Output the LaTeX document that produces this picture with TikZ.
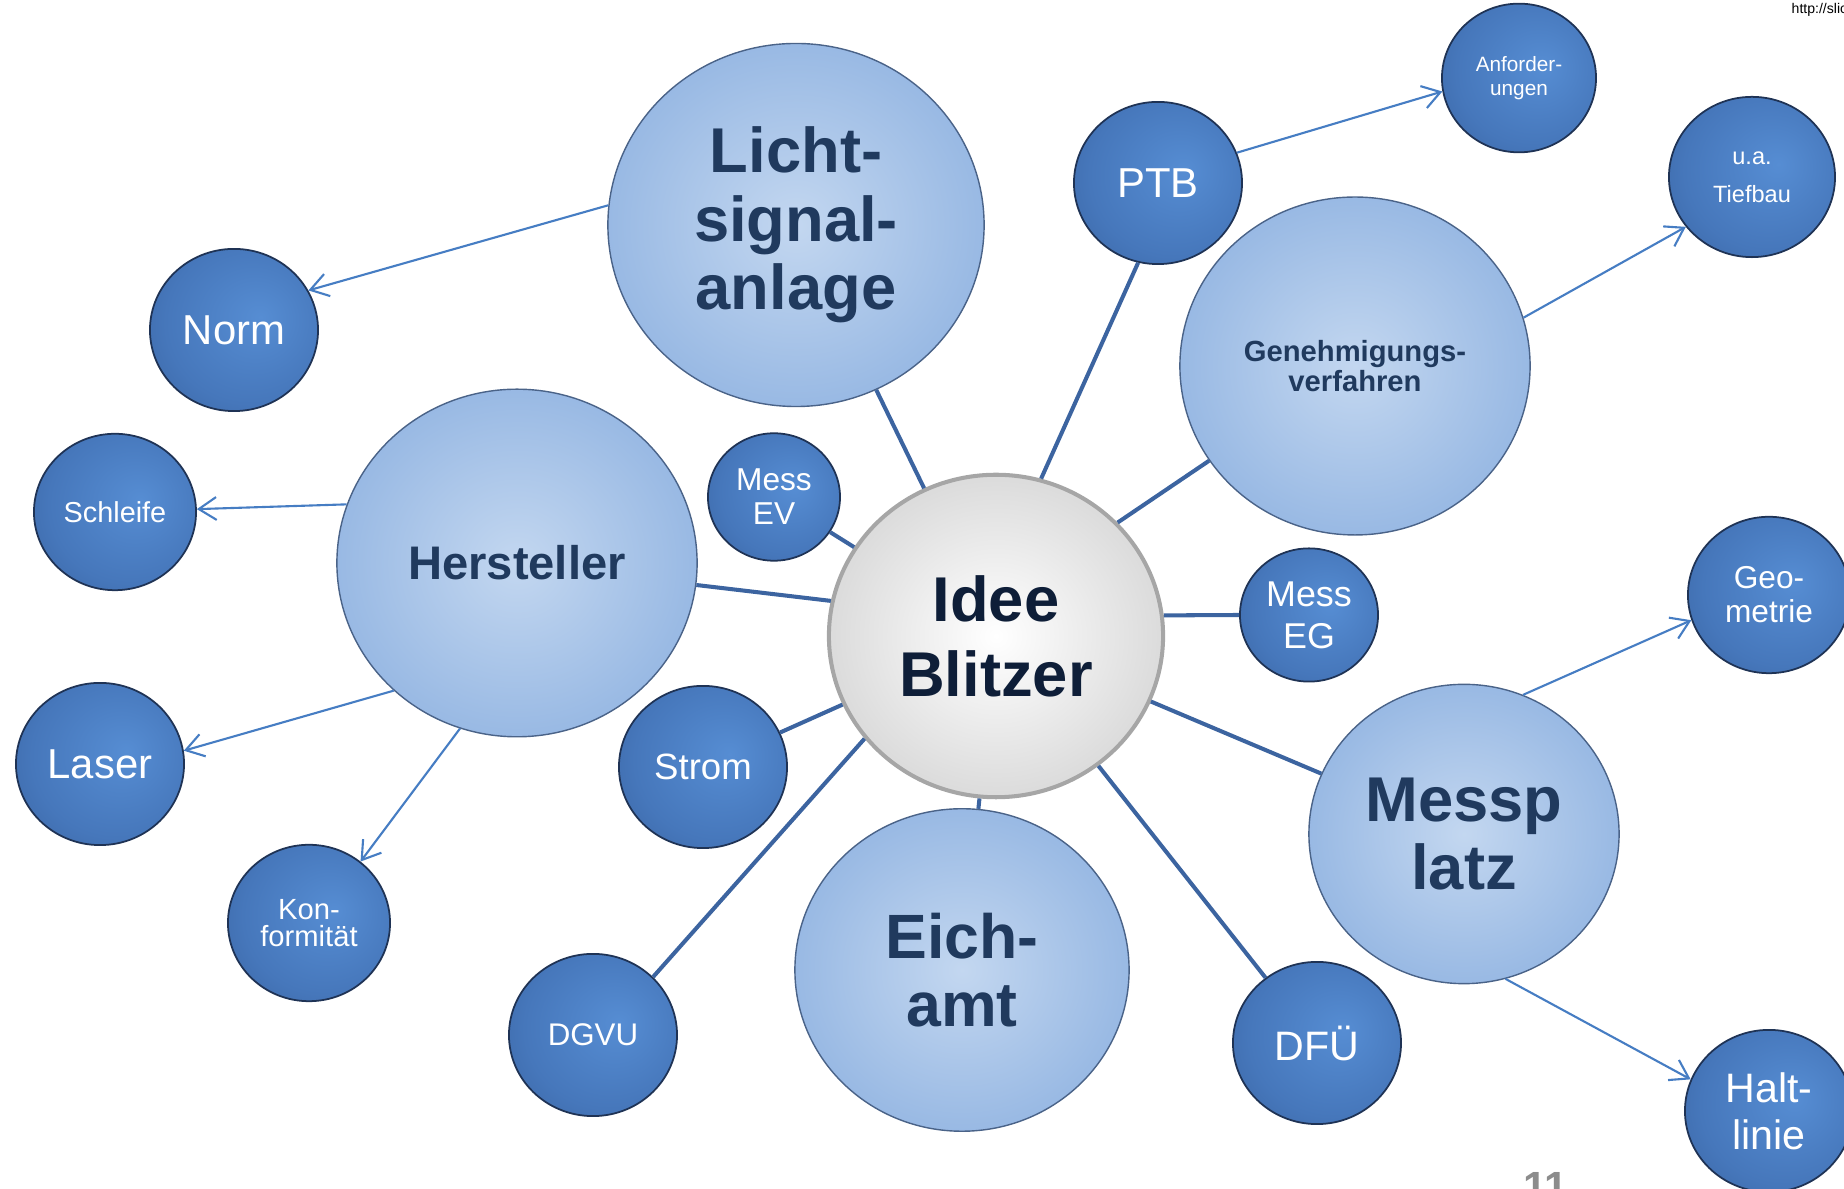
\documentclass[tikz,border=0pt]{standalone}
\usepackage{fontspec}
\setmainfont{Liberation Sans}
\usetikzlibrary{arrows.meta,shapes.geometric}
\definecolor{LinkClr}{HTML}{3C64A0}
\definecolor{PointerClr}{HTML}{467DC3}
\definecolor{DarkIn}{HTML}{568DD3}
\definecolor{DarkMid}{HTML}{4677BB}
\definecolor{DarkOut}{HTML}{284B82}
\definecolor{DarkLine}{HTML}{1F3355}
\definecolor{LightIn}{HTML}{C3D7F0}
\definecolor{LightOut}{HTML}{6E9BD7}
\definecolor{LightLine}{HTML}{4A6388}
\definecolor{HubOut}{HTML}{B7B7B7}
\definecolor{HubLine}{HTML}{A6A6A6}
\definecolor{BigText}{HTML}{203A5E}
\definecolor{HubText}{HTML}{0E1E38}
\definecolor{PageClr}{HTML}{8C8C8C}
\pgfdeclareradialshading{darkball}{\pgfpoint{8bp}{4bp}}{color(0bp)=(DarkIn); color(25bp)=(DarkMid); color(58bp)=(DarkOut)}
\pgfdeclareradialshading{lightball}{\pgfpoint{0bp}{0bp}}{color(0bp)=(LightIn); color(50bp)=(LightOut)}
\pgfdeclareradialshading{hubball}{\pgfpoint{0bp}{0bp}}{color(0bp)=(white); color(50bp)=(HubOut)}
\newcommand{\setfs}[2]{\fontsize{#1}{#2}\selectfont}

\begin{document}
\begin{tikzpicture}[x=0.01cm,y=-0.01cm,
  ball/.style={ellipse,minimum width=#1,minimum height=0.965*#1,inner sep=0pt,align=center},
  dark/.style={ball=#1,shade,shading=darkball,draw=DarkLine,line width=0.5pt,text=white},
  light/.style={ball=#1,shade,shading=lightball,draw=LightLine,line width=0.4pt,text=BigText},
  hub/.style={ball=#1,shade,shading=hubball,draw=HubLine,line width=1.15pt,text=HubText},
  link/.style={LinkClr,line width=1.15pt},
  pointer/.style={PointerClr,line width=0.6pt,-{Straight Barb[length=5pt,width=6.5pt]}}]
\useasboundingbox (0,0) rectangle (1844,1189);

\node[hub=3.34cm,font=\bfseries\setfs{18}{21.3}] (idee) at (996,636) {Idee\\Blitzer};

\node[light=3.76cm,font=\bfseries\setfs{18}{19.4}] (licht) at (796,225) {Licht-\\signal-\\anlage};
\node[light=3.60cm,font=\bfseries\setfs{13.4}{14}] (hersteller) at (517,563) {Hersteller};
\node[light=3.50cm,font=\bfseries\setfs{8.3}{8.6}] (gen) at (1355,366) {Genehmigungs-\\verfahren};
\node[light=3.10cm,font=\bfseries\setfs{18}{19.1}] (messplatz) at (1464,834) {Messp\\latz};
\node[light=3.34cm,font=\bfseries\setfs{17.8}{19.4}] (eich) at (962,970) {Eich-\\amt};

\node[dark=1.68cm,font=\setfs{11.9}{13}] (norm) at (234,330) {Norm};
\node[dark=1.68cm,font=\setfs{11.9}{13}] (ptb) at (1158,183) {PTB};
\node[dark=1.62cm,font=\setfs{8.2}{9}] (schleife) at (115,512) {Schleife};
\node[dark=1.68cm,font=\setfs{11.9}{13}] (laser) at (100,764) {Laser};
\node[dark=1.62cm,font=\setfs{8.3}{7.8}] (konf) at (309,923) {Kon-\\formität};
\node[dark=1.32cm,font=\setfs{9}{9.7}] (messev) at (774,497) {Mess\\EV};
\node[dark=1.68cm,font=\setfs{10.4}{12}] (strom) at (703,767) {Strom};
\node[dark=1.68cm,font=\setfs{8.9}{10}] (dgvu) at (593,1035) {DGVU};
\node[dark=1.68cm,font=\setfs{11.7}{13}] (dfu) at (1317,1043) {DFÜ};
\node[dark=1.38cm,font=\setfs{10.2}{11.9}] (messeg) at (1309,615) {Mess\\EG};
\node[dark=1.54cm,font=\setfs{5.9}{6.9}] (anf) at (1519,78) {Anforder-\\ungen};
\node[dark=1.66cm,font=\setfs{6.7}{10.7}] (tiefbau) at (1752,177) {u.a.\\Tiefbau};
\node[dark=1.62cm,font=\setfs{9}{9.7}] (geo) at (1769,595) {Geo-\\metrie};
\node[dark=1.68cm,font=\setfs{11.7}{13.4}] (halt) at (1769,1111) {Halt-\\linie};

\draw[link] (idee) -- (licht) (idee.74) -- (ptb.256) (idee.43) -- (gen.213)
  (idee.7) -- (messeg.west) (idee) -- (messplatz) (idee) -- (dfu) (idee) -- (eich)
  (idee.218) -- (dgvu.44) (idee) -- (strom) (idee.168) -- (hersteller.353) (idee) -- (messev);

\draw[pointer] (licht.174) -- (norm.28);
\draw[pointer] (ptb.21) -- (anf.190);
\draw[pointer] (gen.16) -- (tiefbau.217);
\draw[pointer] (hersteller.161) -- (schleife.2);
\draw[pointer] (hersteller.226) -- (laser.9);
\draw[pointer] (hersteller.251) -- (konf.50);
\draw[pointer] (messplatz.67) -- (geo.198);
\draw[pointer] (messplatz.286) -- (halt.158);

\node[font=\setfs{4}{4.5},anchor=north west,inner sep=0pt] (url) at (1791,3) {http://slic};
\node[font=\bfseries\setfs{12}{12},text=PageClr,anchor=north,inner sep=0pt] (pagenum) at (1546,1172) {11};
\end{tikzpicture}
\end{document}
